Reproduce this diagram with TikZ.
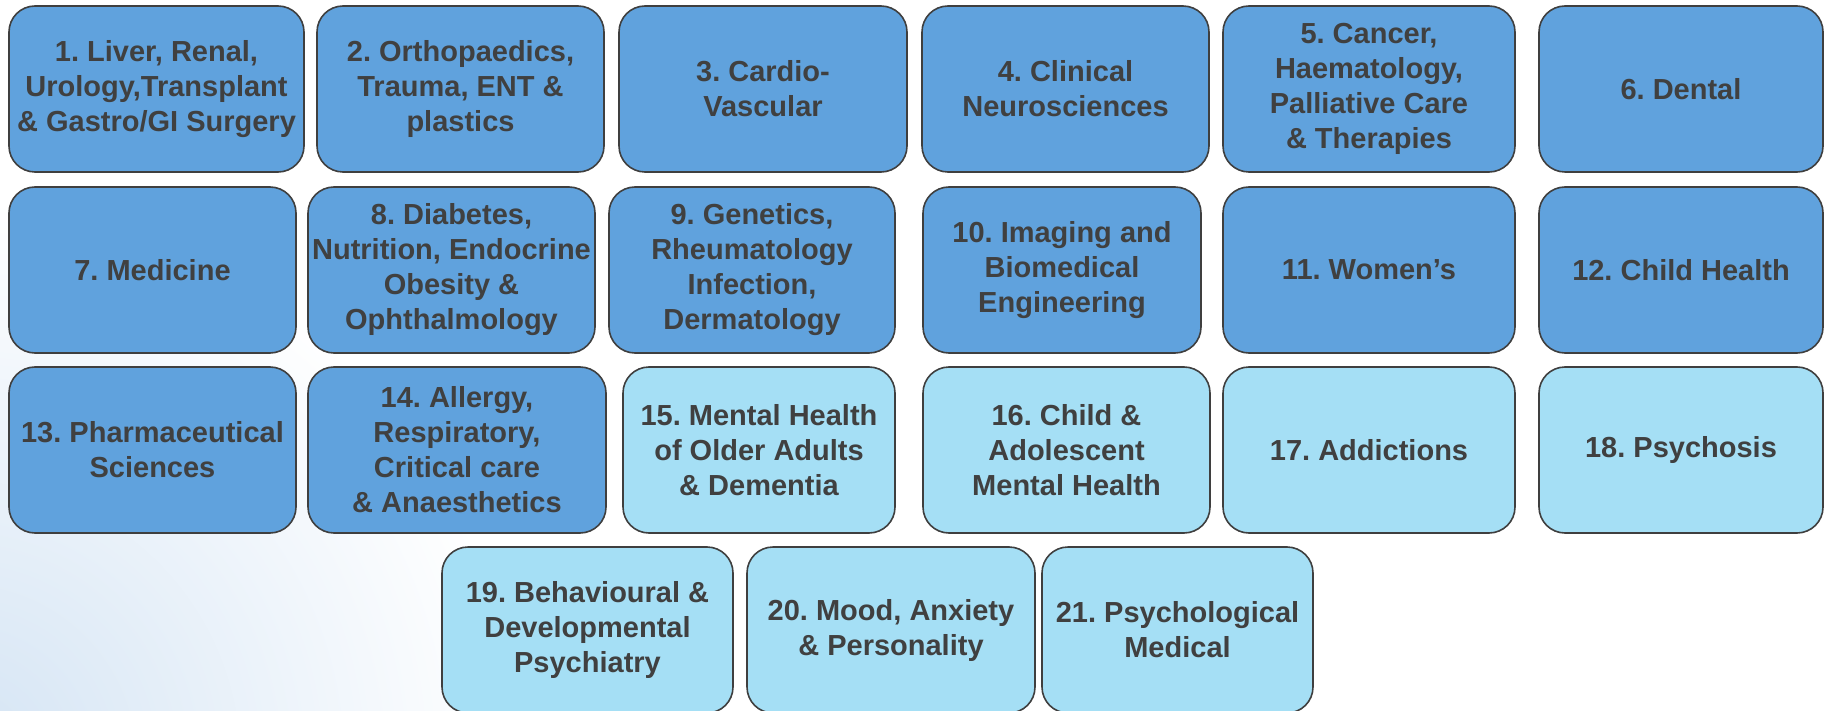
\documentclass[tikz,border=0pt]{standalone}
\usepackage{fontspec}
\setmainfont{Liberation Sans}[BoldFont={Liberation Sans Bold}]
\usetikzlibrary{positioning}
\definecolor{dkblue}{HTML}{60A2DD}
\definecolor{ltblue}{HTML}{A5DFF5}
\definecolor{edgegrey}{HTML}{3F3F3F}
\definecolor{txtgrey}{HTML}{404040}
\definecolor{haze}{HTML}{D4E4F4}
\frenchspacing

\begin{document}
\begin{tikzpicture}[x=1pt, y=-1pt,
    card/.style={draw=edgegrey, line width=1.6pt, rounded corners=26pt,
        minimum height=166pt, inner sep=0pt, align=center, text=txtgrey,
        font=\fontsize{29}{35}\selectfont\bfseries},
    dkcard/.style={card, fill=dkblue},
    ltcard/.style={card, fill=ltblue}]
    \useasboundingbox (0,0) rectangle (1825,711);
    % faint haze in the lower left corner
    \begin{scope}
        \clip (0,0) rectangle (1825,711);
        \shade[inner color=haze, outer color=white] (-40,760) circle (560);
    \end{scope}
    % row 1
    \node[dkcard, minimum width=295pt] (n1) at (156.5,89) {1. Liver, Renal,\\Urology,Transplant\\\& Gastro/GI Surgery};
    \node[dkcard, minimum width=287pt] (n2) at (460.5,89) {2. Orthopaedics,\\Trauma, ENT \&\\plastics};
    \node[dkcard, minimum width=288pt] (n3) at (763,89) {3. Cardio-\\Vascular};
    \node[dkcard, minimum width=287pt] (n4) at (1065.5,89) {4. Clinical\\Neurosciences};
    \node[dkcard, minimum width=292pt] (n5) at (1369,89) {5. Cancer,\\Haematology,\\Palliative Care\\\& Therapies};
    \node[dkcard, minimum width=284pt] (n6) at (1681,89) {6. Dental};
    % row 2
    \node[dkcard, minimum width=287pt] (n7) at (152.5,270) {7. Medicine};
    \node[dkcard, minimum width=287pt] (n8) at (451.5,270) {8. Diabetes,\\Nutrition, Endocrine\\Obesity \&\\Ophthalmology};
    \node[dkcard, minimum width=286pt] (n9) at (752,270) {9. Genetics,\\Rheumatology\\Infection,\\Dermatology};
    \node[dkcard, minimum width=278pt] (n10) at (1062,270) {10. Imaging and\\Biomedical\\Engineering};
    \node[dkcard, minimum width=292pt] (n11) at (1369,270) {11. Women’s};
    \node[dkcard, minimum width=284pt] (n12) at (1681,270) {12. Child Health};
    % row 3
    \node[dkcard, minimum width=287pt] (n13) at (152.5,450) {13. Pharmaceutical\\Sciences};
    \node[dkcard, minimum width=298pt] (n14) at (457,450) {14. Allergy,\\Respiratory,\\Critical care\\\& Anaesthetics};
    \node[ltcard, minimum width=272pt] (n15) at (759,450) {15. Mental Health\\of Older Adults\\\& Dementia};
    \node[ltcard, minimum width=287pt] (n16) at (1066.5,450) {16. Child \&\\Adolescent\\Mental Health};
    \node[ltcard, minimum width=292pt] (n17) at (1369,450) {17. Addictions};
    \node[ltcard, minimum width=284pt] (n18) at (1681,450) {18. Psychosis};
    % row 4
    \node[ltcard, minimum width=291pt] (n19) at (587.5,630) {19. Behavioural \&\\Developmental\\Psychiatry};
    \node[ltcard, minimum width=288pt] (n20) at (891,630) {20. Mood, Anxiety\\\& Personality};
    \node[ltcard, minimum width=271pt] (n21) at (1177.5,630) {21. Psychological\\Medical};
\end{tikzpicture}
\end{document}
